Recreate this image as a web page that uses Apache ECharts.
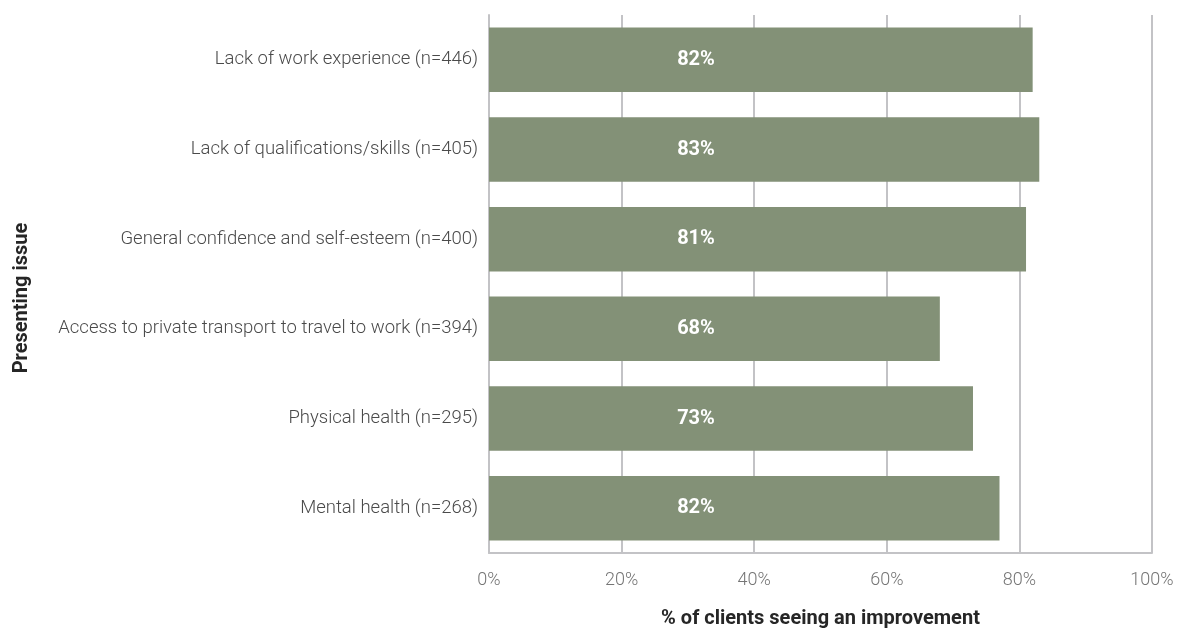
<!DOCTYPE html>
<html style="height: 100%">
<head>
    <meta charset="utf-8">
    <title>Presenting issue</title>
</head>
<body style="height: 100%; margin: 0; background: #ffffff">
<div id="container" style="width: 1177px; height: 628px"></div>
<script type="text/javascript" src="https://cdn.jsdelivr.net/npm/echarts@6/dist/echarts.min.js"></script>
<script type="text/javascript">
var issues = [
    'Lack of work experience (n=446)',
    'Lack of qualifications/skills (n=405)',
    'General confidence and self-esteem (n=400)',
    'Access to private transport to travel to work (n=394)',
    'Physical health (n=295)',
    'Mental health (n=268)'
];
// bar lengths as drawn
var improvement = [82, 83, 81, 68, 73, 77];
// labels as printed on the bars
var barLabels = ['82%', '83%', '81%', '68%', '73%', '82%'];
var xTicks = [0, 20, 40, 60, 80, 100];

var dom = document.getElementById('container');
var myChart = echarts.init(dom);

var option = {
    animation: false,
    textStyle: { fontFamily: 'Roboto' },
    grid: { left: 489, right: 25, top: 15, bottom: 75, outerBoundsMode: 'none' },
    xAxis: {
        type: 'value',
        min: xTicks[0],
        max: xTicks[xTicks.length - 1],
        interval: 20,
        name: '% of clients seeing an improvement',
        nameLocation: 'middle',
        nameGap: 56,
        nameTextStyle: { fontSize: 20, fontWeight: 'bold', color: '#262626' },
        axisLine: { show: true, lineStyle: { color: '#c3c3c6', width: 2 } },
        axisTick: { show: false },
        axisLabel: {
            margin: 18,
            fontSize: 18,
            fontWeight: 300,
            color: '#757575',
            formatter: '{value}%'
        },
        splitLine: { show: true, lineStyle: { color: '#c3c3c6', width: 2 } }
    },
    yAxis: {
        type: 'category',
        inverse: true,
        data: issues,
        name: 'Presenting issue',
        nameLocation: 'middle',
        nameRotate: 90,
        nameGap: 457,
        nameTextStyle: {
            fontSize: 20, fontWeight: 'bold', color: '#262626',
            padding: [0, 28, 0, 0]
        },
        axisLine: { show: true, lineStyle: { color: '#c3c3c6', width: 2 } },
        axisTick: { show: false },
        axisLabel: { margin: 11, fontSize: 18.5, fontWeight: 300, color: '#4a4a4a' }
    },
    series: [{
        type: 'bar',
        data: improvement,
        barCategoryGap: '28%',
        itemStyle: { color: '#839177' },
        label: {
            show: true,
            position: [207, '50%'],
            align: 'center',
            verticalAlign: 'middle',
            color: '#ffffff',
            fontSize: 20,
            fontWeight: 'bold',
            formatter: function (p) { return barLabels[p.dataIndex]; }
        }
    }]
};
myChart.setOption(option);
</script>
</body>
</html>
